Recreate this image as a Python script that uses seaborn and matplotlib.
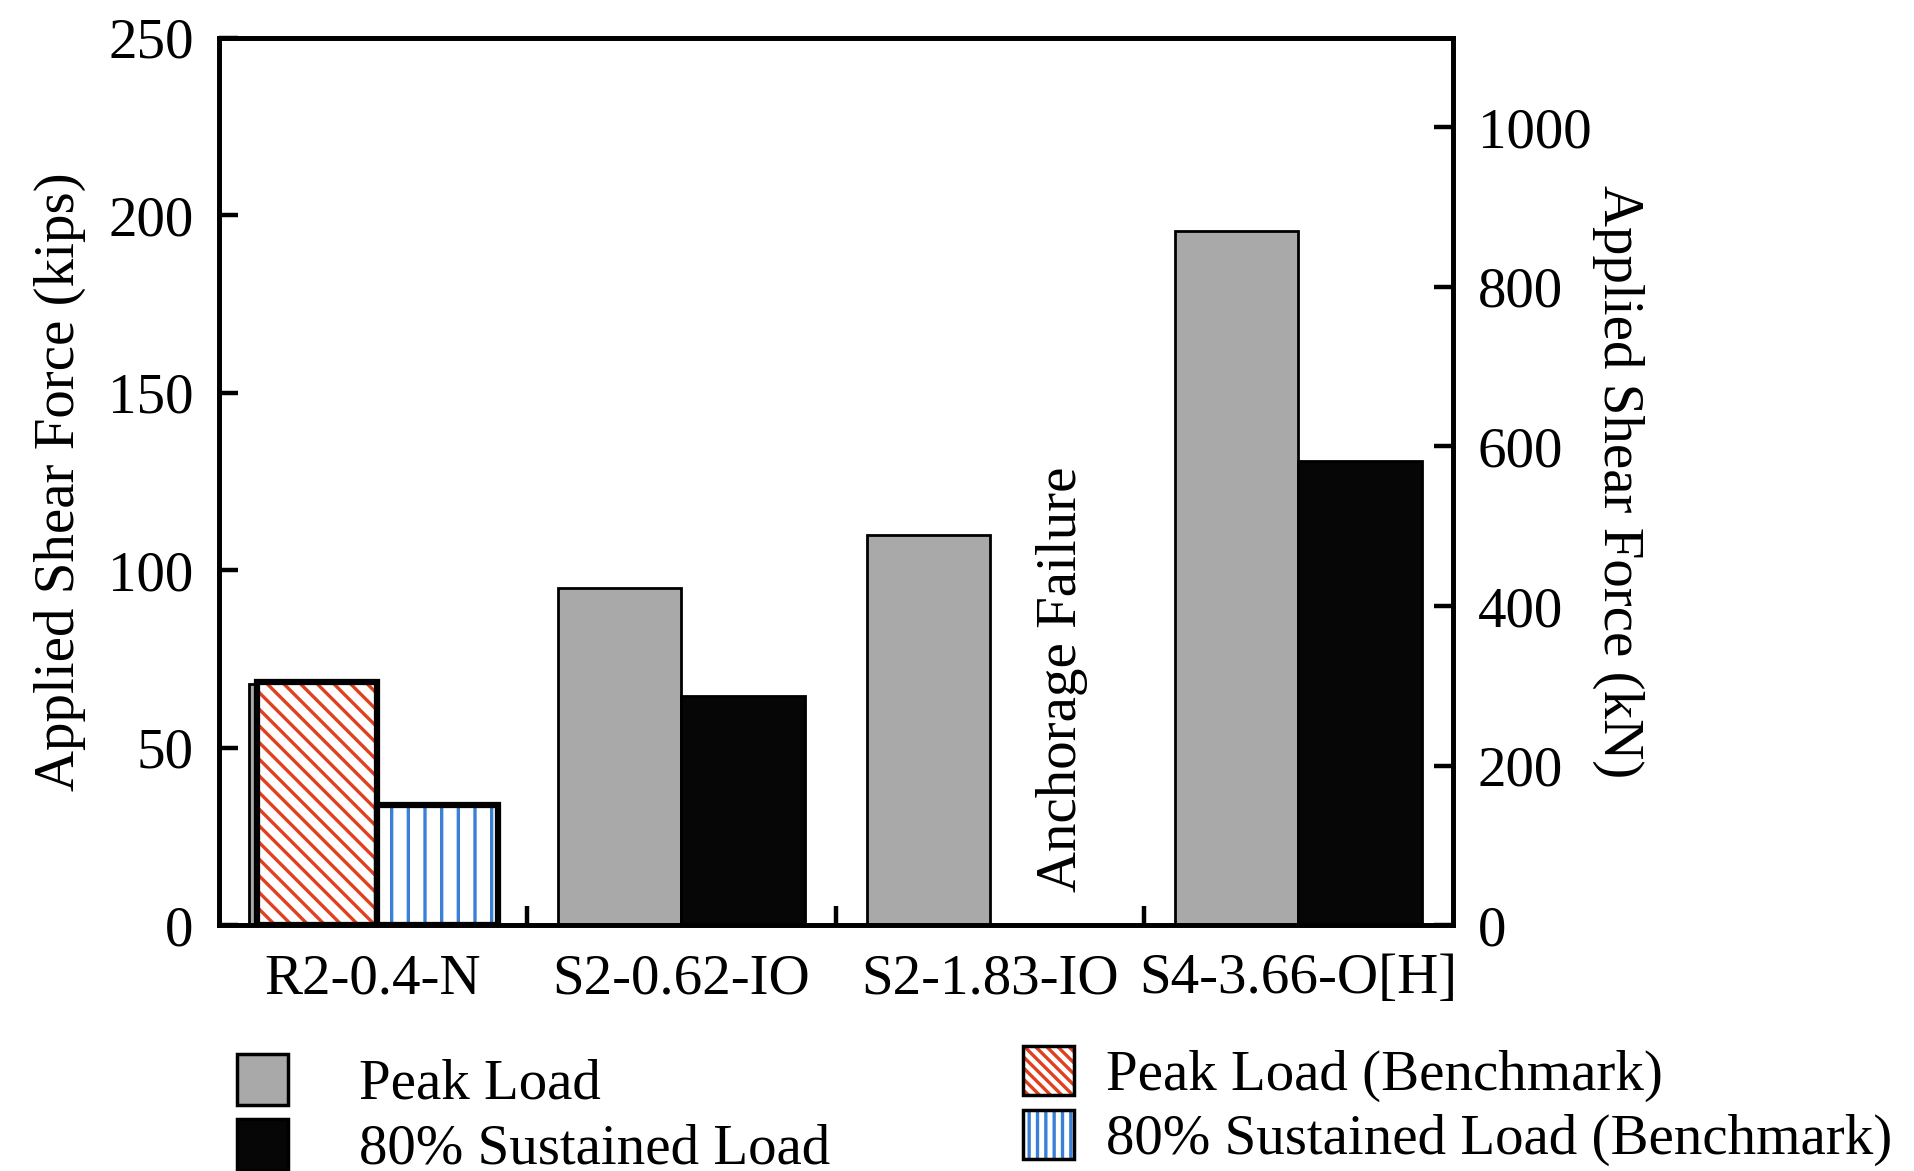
import matplotlib
matplotlib.use("Agg")
import matplotlib.pyplot as plt
import seaborn as sns
import numpy as np
import pandas as pd
from matplotlib.patches import Patch
from matplotlib.ticker import MultipleLocator, FixedLocator
from matplotlib.colors import to_rgba

# specimens
specimens = ["R2-0.4-N", "S2-0.62-IO", "S2-1.83-IO", "S4-3.66-O[H]"]

# test series (kips), NaN = no bar
peak_load = [68.0, 95.0, 110.0, 195.7]
sustained_load = [np.nan, 64.6, np.nan, 130.7]

# benchmark series (kips)
peak_bench = [68.5, np.nan, np.nan, np.nan]
sustained_bench = [34.0, np.nan, np.nan, np.nan]

series_main = ["Peak Load", "80% Sustained Load"]
series_bench = ["Peak Load (Benchmark)", "80% Sustained Load (Benchmark)"]

KIP_TO_KN = 4.448

sns.set_theme(style="white")
plt.rcParams["font.family"] = ["Liberation Serif", "DejaVu Serif"]
plt.rcParams["hatch.linewidth"] = 2.4
for k in ["text.color", "axes.labelcolor", "xtick.color", "ytick.color"]:
    plt.rcParams[k] = "black"

df_main = pd.DataFrame({
    "specimen": specimens * 2,
    "series": [series_main[0]] * 4 + [series_main[1]] * 4,
    "value": peak_load + sustained_load,
})
df_bench = pd.DataFrame({
    "specimen": specimens * 2,
    "series": [series_bench[0]] * 4 + [series_bench[1]] * 4,
    "value": peak_bench + sustained_bench,
})

fig = plt.figure(figsize=(19.14, 11.71), dpi=100)
ax = fig.add_axes([0.1142, 0.2098, 0.6448, 0.7579])

gray = "#a9a9a9"
black = "#060606"
red = "#e0401f"
blue = "#3a80d6"

sns.barplot(data=df_main, x="specimen", y="value", hue="series",
            order=specimens, hue_order=series_main,
            palette=[gray, black], width=0.8, edgecolor="black",
            linewidth=2.0, saturation=1, legend=False, ax=ax)

n_before = len(ax.patches)
sns.barplot(data=df_bench, x="specimen", y="value", hue="series",
            order=specimens, hue_order=series_bench,
            palette=["white", "white"], width=0.78, edgecolor="black",
            linewidth=4.5, saturation=1, legend=False, ax=ax)

# hatch the benchmark bars, red diagonal / blue vertical
for p in ax.patches[n_before:]:
    h = p.get_height()
    if np.isnan(h) or h == 0:
        continue
    p.set_x(p.get_x() + 0.015)
    if p.get_x() < 0:
        p.set_hatch("\\\\")
        p._hatch_color = to_rgba(red)
    else:
        p.set_hatch("|")
        p._hatch_color = to_rgba(blue)

ax.set_xlim(-0.5, 3.5)
ax.set_ylim(0, 250)
ax.yaxis.set_major_locator(MultipleLocator(50))
ax.set_xlabel("")
ax.set_ylabel("Applied Shear Force (kips)", fontsize=41, labelpad=16)

ax.tick_params(axis="y", direction="in", length=14, width=3.2,
               labelsize=41, pad=18, left=True)
ax.tick_params(axis="x", which="major", length=0, labelsize=41, pad=20)
ax.xaxis.set_minor_locator(FixedLocator([0.5, 1.5, 2.5]))
ax.tick_params(axis="x", which="minor", direction="in", length=14,
               width=3.2, bottom=True)

for s in ax.spines.values():
    s.set_visible(True)
    s.set_linewidth(3.4)
    s.set_color("black")

# right axis in kN
ax2 = ax.twinx()
ax2.set_ylim(0, 250 * KIP_TO_KN)
ax2.yaxis.set_major_locator(MultipleLocator(200))
ax2.tick_params(axis="y", direction="in", length=14, width=3.2,
                labelsize=41, pad=18, right=True)
ax2.set_ylabel("Applied Shear Force (kN)", fontsize=41, rotation=270,
               labelpad=38)
for s in ax2.spines.values():
    s.set_linewidth(3.4)
    s.set_color("black")
ax2.grid(False)

ax.text(2.235, 9.5, "Anchorage Failure", rotation=90, fontsize=41,
        ha="center", va="bottom")

# legends, two separate blocks like the original
h_main = [
    Patch(facecolor=gray, edgecolor="black", linewidth=2.5, label=series_main[0]),
    Patch(facecolor=black, edgecolor="black", linewidth=2.5, label=series_main[1]),
]
h_bench = [
    Patch(facecolor="white", edgecolor="black", hatch="\\\\\\", linewidth=2.5, label=series_bench[0]),
    Patch(facecolor="white", edgecolor="black", hatch="||", linewidth=2.5, label=series_bench[1]),
]
leg1 = fig.legend(handles=h_main, loc="upper left",
                  bbox_to_anchor=(0.1237, 0.1), frameon=False,
                  fontsize=41, handlelength=0.9, handleheight=1.0,
                  handletextpad=1.25, labelspacing=0.14, borderpad=0,
                  borderaxespad=0)
leg2 = fig.legend(handles=h_bench, loc="upper left",
                  bbox_to_anchor=(0.5345, 0.107), frameon=False,
                  fontsize=41, handlelength=0.9, handleheight=0.95,
                  handletextpad=0.55, labelspacing=0.14, borderpad=0,
                  borderaxespad=0)
lp = leg2.get_patches()
lp[0]._hatch_color = to_rgba(red)
lp[1]._hatch_color = to_rgba(blue)

fig.savefig("out.png", dpi=100, facecolor="white")
